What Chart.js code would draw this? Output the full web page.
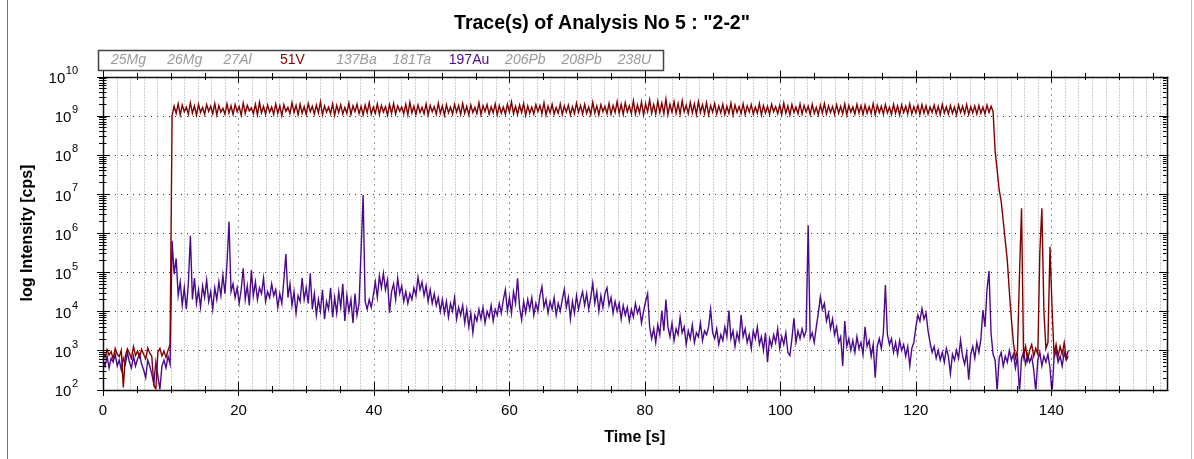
<!DOCTYPE html>
<html>
<head>
<meta charset="utf-8">
<title>Trace(s) of Analysis No 5</title>
<script src="https://cdn.jsdelivr.net/npm/chart.js@4.4.1/dist/chart.umd.min.js"></script>
<style>
  html, body { margin: 0; padding: 0; background: #fff; }
  #wrap { position: relative; width: 1194px; height: 459px; }
</style>
</head>
<body>
<div id="wrap"><canvas id="traceChart" width="1194" height="459"></canvas></div>
<script>
var TITLE = 'Trace(s) of Analysis No 5 : "2-2"';
var STEP = 0.3;      // seconds between sweeps
var X_MAX = 157;

var isotopes = ['25Mg', '26Mg', '27Al', '51V', '137Ba', '181Ta', '197Au', '206Pb', '208Pb', '238U'];
var shown = { '51V': '#800000', '197Au': '#4b0a8c' };

var xLabels = [0, 20, 40, 60, 80, 100, 120, 140];
var decades = [2, 3, 4, 5, 6, 7, 8, 9, 10];

// log10 of intensity [cps], one value per sweep
var v51 = [
  2.95,2.82,3.02,2.88,2.97,2.78,3.05,2.90,2.84,3.00,
  2.05,2.86,3.04,2.92,2.80,3.10,2.87,2.98,2.83,3.03,
  2.90,2.78,3.06,2.93,2.85,2.12,2.00,2.95,3.05,2.86,
  2.98,2.82,3.00,3.15,
  9.00,9.24,9.06,9.30,9.02,9.27,9.10,9.22,9.04,9.33,
  9.06,9.25,9.01,9.29,9.08,9.21,9.03,9.28,9.11,9.24,
  9.05,9.31,9.02,9.26,9.09,9.19,9.04,9.30,9.07,9.25,
  9.03,9.28,9.10,9.23,9.01,9.32,9.06,9.26,9.12,9.20,
  9.05,9.29,9.02,9.34,9.07,9.24,9.04,9.27,9.09,9.22,
  9.03,9.30,9.06,9.25,9.00,9.28,9.11,9.21,9.05,9.33,
  9.08,9.26,9.02,9.29,9.06,9.23,9.03,9.31,9.10,9.24,
  9.04,9.27,9.07,9.35,9.02,9.25,9.09,9.22,9.05,9.30,
  9.01,9.26,9.08,9.28,9.04,9.21,9.06,9.32,9.03,9.25,
  9.10,9.29,9.05,9.24,9.02,9.27,9.07,9.33,9.04,9.22,
  9.06,9.30,9.03,9.26,9.09,9.23,9.01,9.28,9.06,9.31,
  9.04,9.25,9.11,9.22,9.05,9.29,9.02,9.34,9.07,9.24,
  9.03,9.27,9.08,9.21,9.05,9.30,9.02,9.26,9.10,9.23,
  9.04,9.32,9.06,9.25,9.01,9.28,9.07,9.22,9.04,9.29,
  9.09,9.26,9.03,9.31,9.06,9.24,9.02,9.27,9.08,9.21,
  9.05,9.33,9.03,9.25,9.10,9.28,9.04,9.23,9.07,9.30,
  9.02,9.26,9.06,9.22,9.04,9.29,9.09,9.35,9.05,9.24,
  9.03,9.27,9.08,9.31,9.01,9.25,9.06,9.22,9.04,9.28,
  9.10,9.26,9.05,9.33,9.02,9.24,9.07,9.29,9.04,9.21,
  9.06,9.30,9.03,9.25,9.09,9.27,9.02,9.23,9.05,9.32,
  9.08,9.26,9.04,9.29,9.06,9.22,9.03,9.34,9.07,9.25,
  9.02,9.28,9.10,9.24,9.05,9.31,9.04,9.26,9.08,9.36,
  9.06,9.29,9.03,9.33,9.09,9.25,9.05,9.38,9.04,9.27,
  9.07,9.35,9.02,9.30,9.10,9.40,9.06,9.28,9.04,9.37,
  9.08,9.32,9.05,9.42,9.03,9.29,9.09,9.36,9.06,9.31,
  9.04,9.38,9.10,9.27,9.05,9.34,9.07,9.30,9.03,9.36,
  9.08,9.28,9.05,9.33,9.02,9.26,9.09,9.31,9.04,9.25,
  9.07,9.29,9.03,9.24,9.06,9.32,9.02,9.27,9.08,9.23,
  9.05,9.30,9.03,9.25,9.09,9.28,9.04,9.22,9.06,9.31,
  9.02,9.26,9.07,9.24,9.04,9.29,9.10,9.23,9.05,9.27,
  9.03,9.32,9.06,9.25,9.02,9.28,9.08,9.22,9.05,9.30,
  9.04,9.26,9.09,9.24,9.03,9.29,9.06,9.21,9.02,9.27,
  9.07,9.31,9.04,9.25,9.08,9.23,9.03,9.28,9.06,9.24,
  9.05,9.30,9.02,9.26,9.09,9.22,9.04,9.29,9.07,9.25,
  9.03,9.27,9.06,9.23,9.05,9.31,9.02,9.26,9.08,9.24,
  9.04,9.28,9.07,9.22,9.03,9.29,9.06,9.25,9.02,9.27,
  9.08,9.24,9.05,9.30,9.04,9.23,9.07,9.26,9.03,9.28,
  9.06,9.25,9.04,9.22,9.08,9.27,9.05,9.24,9.03,9.29,
  9.07,9.23,9.04,9.26,9.06,9.22,9.02,9.27,9.08,9.24,
  9.05,9.28,9.03,9.23,9.07,9.25,9.04,9.26,9.06,9.22,
  9.04,9.27,9.08,9.24,9.10,
  8.10,7.60,7.10,6.80,6.30,5.80,5.30,4.50,3.80,3.20,
  2.80,3.00,4.95,6.63,2.85,3.10,2.75,3.00,3.15,2.85,
  3.05,2.90,5.50,6.63,4.00,3.05,3.20,5.65,4.10,2.90,
  3.15,2.85,3.10,2.90,3.20,2.80,3.00
];

var au197 = [
  2.75,2.60,2.85,2.55,2.80,2.70,2.90,2.60,2.75,2.50,
  2.80,2.65,2.95,2.70,2.55,2.85,2.60,2.78,2.90,2.65,
  2.50,2.30,2.75,2.60,2.40,2.15,2.70,2.35,2.00,2.60,
  2.75,2.55,2.85,2.65,5.80,4.95,5.35,4.40,4.75,4.15,
  4.60,4.05,4.70,5.93,4.30,4.85,4.20,4.55,4.10,4.65,
  4.35,4.80,4.25,4.50,4.05,4.60,4.30,4.75,4.40,4.92,
  4.45,5.20,6.29,4.50,4.70,4.35,4.60,4.20,4.55,5.10,
  4.30,4.65,4.15,5.05,4.40,4.75,4.30,4.60,4.45,4.85,
  4.25,4.50,4.35,4.70,4.40,4.55,4.10,4.45,4.20,4.80,
  5.46,4.35,4.70,4.15,4.50,3.95,4.40,4.25,4.85,4.30,
  4.60,4.20,4.97,4.05,4.45,3.90,4.30,4.00,4.55,3.80,
  4.25,4.05,4.60,3.85,4.35,3.95,4.50,4.10,4.70,3.75,
  4.40,4.00,4.30,3.70,4.45,3.90,4.20,5.56,6.97,4.25,
  4.05,4.30,4.10,4.40,4.75,4.35,4.90,4.60,4.97,4.55,
  4.80,3.96,4.50,4.70,4.30,4.85,4.45,4.65,4.25,4.50,
  4.20,4.45,4.30,4.60,4.40,4.87,4.55,4.75,4.40,4.65,
  4.25,4.55,4.20,4.45,4.15,4.35,4.00,4.30,3.95,4.25,
  3.85,4.20,4.00,4.35,3.80,4.10,3.90,4.15,3.70,4.05,
  3.60,3.95,3.45,3.90,3.75,4.05,3.80,4.10,3.70,4.00,
  3.85,4.15,3.75,4.05,3.90,4.20,3.95,4.30,4.55,4.00,
  4.35,3.95,4.50,4.20,4.84,4.10,3.78,4.25,3.95,4.30,
  4.05,4.35,3.90,4.20,4.00,4.40,4.63,4.10,4.30,3.95,
  4.25,4.05,4.35,3.90,4.20,4.00,4.30,4.56,4.10,4.35,
  3.80,4.25,3.95,4.40,4.05,4.30,4.50,4.15,4.45,4.05,
  4.35,4.72,4.20,4.50,4.00,4.40,4.10,4.45,4.60,4.15,
  4.35,3.95,4.25,4.00,4.20,3.80,4.15,3.90,4.10,3.75,
  4.05,3.85,4.20,3.95,4.10,3.70,4.00,4.25,4.45,3.60,
  3.30,3.55,3.20,3.65,3.40,4.02,3.50,4.30,3.60,3.35,
  3.70,3.25,3.55,3.40,3.85,3.45,3.60,3.15,3.50,3.30,
  3.65,3.20,3.45,3.35,3.70,3.25,3.50,3.40,3.60,4.05,
  3.45,3.30,3.55,3.15,3.40,3.25,3.60,3.35,4.02,3.30,
  3.50,3.10,3.45,3.25,3.90,3.35,3.55,3.20,3.40,3.05,
  3.50,3.30,3.60,3.15,3.35,3.00,3.45,2.70,3.30,3.10,
  3.40,3.20,3.55,3.05,3.35,3.15,3.45,2.95,2.87,3.30,
  3.82,3.20,3.50,3.30,3.55,3.35,3.50,6.20,3.30,3.45,
  3.20,3.60,3.95,4.37,4.05,4.20,3.75,3.95,3.55,3.80,
  3.40,3.60,3.20,3.35,2.60,3.75,3.10,3.30,3.00,3.25,
  2.95,3.35,3.05,3.20,2.90,3.60,3.10,3.25,2.85,3.15,
  2.30,3.10,3.30,3.05,3.45,4.67,3.40,3.15,3.30,2.95,
  3.20,2.90,3.25,3.00,3.15,2.85,3.10,2.60,3.05,3.20,
  3.60,3.90,3.75,4.07,3.80,3.95,3.50,3.20,2.95,3.10,
  2.80,3.00,2.75,2.95,2.70,3.05,2.85,2.40,2.90,2.75,
  3.00,2.80,3.26,2.85,2.65,2.95,2.25,2.90,3.10,2.80,
  3.20,2.95,3.30,4.03,3.60,4.54,5.03,3.43,2.90,2.75,
  1.95,2.80,2.95,2.60,2.85,2.70,3.00,2.75,2.90,2.55,
  2.85,1.90,2.80,2.95,2.65,2.90,2.70,2.85,2.50,1.95,
  2.75,2.95,2.60,2.85,2.70,2.90,2.55,1.90,2.80,3.00,
  2.70,2.85,2.60,2.95,2.75,2.85
];

var FONT = '"Liberation Sans", Arial, Helvetica, sans-serif';

function toPoints(logs) {
  return logs.map(function (v, i) {
    return { x: Math.round(i * STEP * 100) / 100, y: Math.pow(10, v) };
  });
}

function line(ctx, x1, y1, x2, y2) {
  ctx.beginPath();
  ctx.moveTo(x1, y1);
  ctx.lineTo(x2, y2);
  ctx.stroke();
}

// grid, box, ticks and all the text around the plot
var axisFrame = {
  id: 'axisFrame',

  beforeDatasetsDraw: function (chart) {
    var ctx = chart.ctx, a = chart.chartArea;
    var xs = chart.scales.x, ys = chart.scales.y;
    ctx.save();
    ctx.lineWidth = 1;

    // light dotted verticals every 2 s
    ctx.strokeStyle = '#a0a0a0';
    ctx.setLineDash([1, 2]);
    for (var t = 2; t < X_MAX; t += 2) {
      if (t % 20 === 0) continue;
      var px = Math.round(xs.getPixelForValue(t)) + 0.5;
      line(ctx, px, a.top, px, a.bottom);
    }

    // coarser dark dots on the labelled times and decades
    ctx.strokeStyle = '#333';
    ctx.setLineDash([1, 5]);
    xLabels.forEach(function (t) {
      if (t === 0) return;
      var px = Math.round(xs.getPixelForValue(t)) + 0.5;
      line(ctx, px, a.top, px, a.bottom);
    });
    decades.forEach(function (d) {
      if (d === 2 || d === 10) return;
      var py = Math.round(ys.getPixelForValue(Math.pow(10, d))) + 0.5;
      line(ctx, a.left, py, a.right, py);
    });
    ctx.restore();
  },

  afterDatasetsDraw: function (chart) {
    var ctx = chart.ctx, a = chart.chartArea;
    var xs = chart.scales.x, ys = chart.scales.y;
    ctx.save();

    // plot box
    ctx.strokeStyle = '#111';
    ctx.lineWidth = 1.5;
    ctx.strokeRect(Math.round(a.left) + 0.5, Math.round(a.top) + 0.5,
                   Math.round(a.right - a.left), Math.round(a.bottom - a.top));

    // time ticks, every 5 s, on bottom and top edges
    ctx.lineWidth = 1;
    ctx.strokeStyle = '#000';
    for (var t = 0; t <= X_MAX; t += 5) {
      var px = Math.round(xs.getPixelForValue(t)) + 0.5;
      var big = t % 20 === 0;
      line(ctx, px, a.bottom - (big ? 8 : 3.5), px, a.bottom + (big ? 6.5 : 3.5));
      line(ctx, px, a.top - (big ? 6 : 3.5), px, a.top + (big ? 6 : 3.5));
    }

    // log ticks on left and right edges
    for (var d = 2; d <= 10; d++) {
      for (var m = 1; m <= 9; m++) {
        if (d === 10 && m > 1) break;
        var py = Math.round(ys.getPixelForValue(m * Math.pow(10, d))) + 0.5;
        var major = m === 1;
        line(ctx, a.left - (major ? 6 : 4), py, a.left + (major ? 7 : 3.5), py);
        line(ctx, a.right - (major ? 7 : 3.5), py, a.right + (major ? 2 : 0), py);
      }
    }

    // tick labels
    ctx.fillStyle = '#000';
    ctx.font = '15px ' + FONT;
    ctx.textAlign = 'center';
    ctx.textBaseline = 'middle';
    xLabels.forEach(function (t) {
      ctx.fillText(String(t), xs.getPixelForValue(t), 411);
    });

    decades.forEach(function (d) {
      var py = ys.getPixelForValue(Math.pow(10, d));
      var exp = String(d);
      ctx.font = '11px ' + FONT;
      var ew = ctx.measureText(exp).width;
      ctx.textAlign = 'left';
      ctx.fillText(exp, 78 - ew, py - 5.5);
      ctx.font = '15px ' + FONT;
      ctx.textAlign = 'right';
      ctx.fillText('10', 78 - ew - 0.5, py + 2.5);
    });
    ctx.restore();
  },

  afterDraw: function (chart) {
    var ctx = chart.ctx, a = chart.chartArea;
    ctx.save();
    ctx.fillStyle = '#000';
    ctx.textBaseline = 'middle';

    // title
    ctx.font = 'bold 19.5px ' + FONT;
    ctx.textAlign = 'center';
    ctx.fillText(TITLE, 602, 24);

    // axis titles
    ctx.font = 'bold 16px ' + FONT;
    ctx.fillText('Time [s]', (a.left + a.right) / 2, 438);
    ctx.save();
    ctx.translate(27.5, (a.top + a.bottom) / 2);
    ctx.rotate(-Math.PI / 2);
    ctx.fillText('log Intensity [cps]', 0, 0);
    ctx.restore();

    // isotope legend, inactive masses in grey italics
    ctx.strokeStyle = '#444';
    ctx.lineWidth = 1.5;
    ctx.strokeRect(98.5, 50.5, 565, 20);
    ctx.textAlign = 'left';
    isotopes.forEach(function (name, k) {
      var col = shown[name];
      ctx.font = (col ? '' : 'italic ') + '14px ' + FONT;
      ctx.fillStyle = col || '#9a9a9a';
      ctx.fillText(name, 111 + k * 56.3, 60);
    });

    // outer frame
    ctx.lineWidth = 1;
    ctx.strokeStyle = '#777';
    line(ctx, 7.5, 0, 7.5, 459);
    ctx.strokeStyle = '#c0c0c0';
    line(ctx, 1191.5, 0, 1191.5, 459);
    ctx.restore();
  }
};

new Chart(document.getElementById('traceChart'), {
  type: 'line',
  data: {
    datasets: [
      { label: '51V', data: toPoints(v51), borderColor: shown['51V'] },
      { label: '197Au', data: toPoints(au197), borderColor: shown['197Au'] }
    ]
  },
  options: {
    responsive: false,
    animation: false,
    devicePixelRatio: 1,
    layout: { padding: { left: 0, right: 27.5, top: 76.5, bottom: 0 } },
    elements: {
      point: { radius: 0 },
      line: { borderWidth: 1.4, tension: 0, fill: false }
    },
    plugins: {
      legend: { display: false },
      title: { display: false },
      tooltip: { enabled: false }
    },
    scales: {
      x: {
        type: 'linear', min: 0, max: X_MAX,
        grid: { display: false, drawTicks: false },
        border: { display: false },
        ticks: { display: false },
        afterFit: function (s) { s.height = 69.5; }
      },
      y: {
        type: 'logarithmic', min: 1e2, max: 1e10,
        grid: { display: false, drawTicks: false },
        border: { display: false },
        ticks: { display: false },
        afterFit: function (s) { s.width = 103; }
      }
    }
  },
  plugins: [axisFrame]
});
</script>
</body>
</html>
